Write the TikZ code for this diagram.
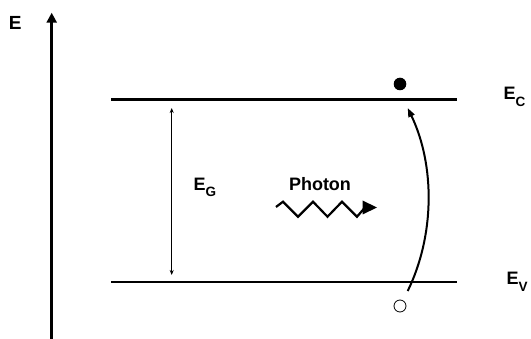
\documentclass[tikz,border=0pt]{standalone}
\usepackage{fontspec}
\setmainfont{Liberation Sans}
\usetikzlibrary{arrows.meta}
\newcommand\mysubfnt{\fontsize{13.5}{13.5}\selectfont}
\begin{document}
\begin{tikzpicture}[x=1pt,y=-1pt,
  lbl/.style={anchor=base west,inner sep=0pt,font=\fontsize{18}{18}\selectfont\bfseries},
  level/.style={line width=2.6pt},
  axisline/.style={line width=3pt,-{Triangle[width=10pt,length=10pt]}},
  gap/.style={line width=1.2pt,{Stealth[width=4pt,length=5pt]}-{Stealth[width=4pt,length=5pt]}},
  zig/.style={line width=2.2pt,line join=miter},
  jump/.style={line width=2pt,-{Triangle[width=6.5pt,length=9pt]}},
  electron/.style={circle,fill=black,minimum size=12.6pt,inner sep=0pt},
  hole/.style={circle,draw=black,line width=0.8pt,minimum size=12pt,inner sep=0pt}]
\useasboundingbox (0,0) rectangle (531,339);
% energy axis
\coordinate (ax0) at (51.7,339);
\coordinate (ax1) at (51.7,12.7);
\draw[axisline] (ax0) -- (ax1);
\node[lbl,font=\fontsize{19}{19}\selectfont\bfseries] (E) at (8.8,30) {E};
% band edges
\coordinate (c0) at (111,99.5);
\coordinate (c1) at (457,99.5);
\coordinate (v0) at (111,282);
\coordinate (v1) at (457,282);
\draw[level] (c0) -- (c1);
\draw[level] (v0) -- (v1);
\node[lbl] (Ec) at (503.5,100) {E\raisebox{-7pt}{\mysubfnt C}};
\node[lbl] (Ev) at (506.5,285) {E\raisebox{-7pt}{\mysubfnt V}};
% band gap
\coordinate (g0) at (171.7,108);
\coordinate (g1) at (171.7,275);
\draw[gap] (g0) -- (g1);
\node[lbl] (Eg) at (193.5,190.7) {E\raisebox{-5.5pt}{\mysubfnt G}};
% photon
\node[lbl] (ph) at (288.8,190.7) {Photon};
\coordinate (z0) at (276,207);
\coordinate (z1) at (283,201.7);
\coordinate (z2) at (298,216.7);
\coordinate (z3) at (313,201.7);
\coordinate (z4) at (327.5,216.7);
\coordinate (z5) at (342,201.7);
\coordinate (z6) at (357,216.7);
\coordinate (z7) at (365,207.5);
\draw[zig] (z0) -- (z1) -- (z2) -- (z3) -- (z4) -- (z5) -- (z6) -- (z7);
\coordinate (t1) at (362.5,200.5);
\coordinate (t2) at (362.5,214.5);
\coordinate (t3) at (377,207.5);
\fill (t1) -- (t3) -- (t2) -- cycle;
% electron and hole
\node[electron] (el) at (400,84) {};
\node[hole] (ho) at (400,306) {};
\coordinate (h0) at (407.7,291);
\coordinate (h1) at (407.7,108);
\draw[jump] (h0) .. controls (435,235) and (435,165) .. (h1);
\end{tikzpicture}
\end{document}
